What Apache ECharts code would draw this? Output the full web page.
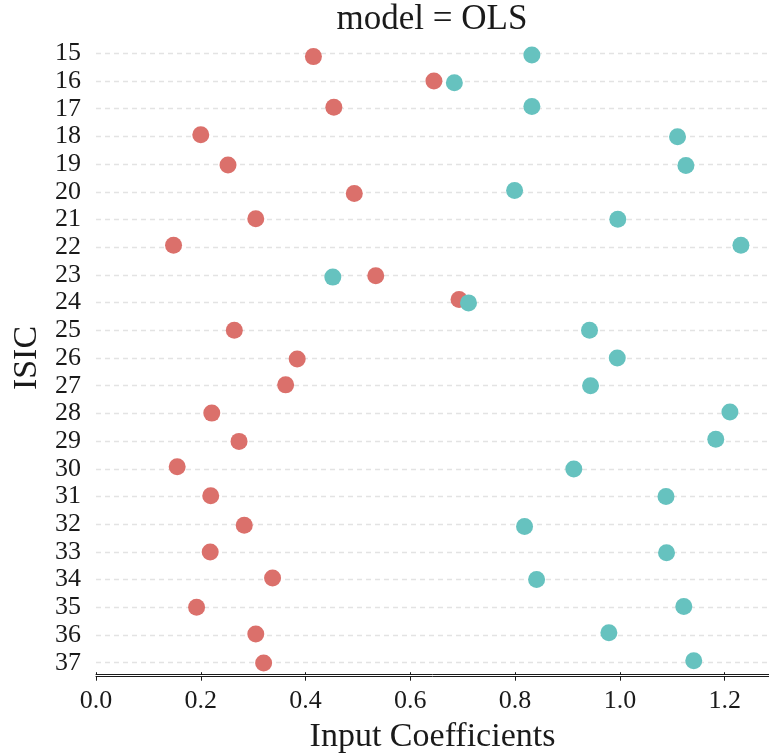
<!DOCTYPE html>
<html>
<head>
<meta charset="utf-8">
<script src="https://cdn.jsdelivr.net/npm/echarts@6/dist/echarts.min.js"></script>
<style>html,body{margin:0;padding:0;background:#fff}#c{width:769px;height:756px}</style>
</head>
<body>
<div id="c"></div>
<script>
const categories = ['15','16','17','18','19','20','21','22','23','24','25','26','27','28','29','30','31','32','33','34','35','36','37'];
const redValues  = [0.415,0.645,0.454,0.200,0.252,0.493,0.305,0.148,0.534,0.693,0.264,0.384,0.362,0.221,0.273,0.155,0.219,0.283,0.218,0.337,0.192,0.305,0.320];
const tealValues = [0.832,0.684,0.832,1.110,1.126,0.799,0.996,1.231,0.452,0.711,0.942,0.995,0.944,1.210,1.183,0.912,1.088,0.818,1.089,0.841,1.122,0.979,1.141];
const redJitter  = [0.12,0.00,-0.05,-0.06,0.03,0.06,-0.03,-0.07,0.03,-0.11,0.00,0.04,-0.03,-0.01,0.01,-0.07,-0.03,0.04,0.00,-0.06,0.00,-0.04,0.01];
const tealJitter = [0.06,0.06,-0.08,0.01,0.05,-0.05,-0.01,-0.07,0.08,0.01,0.00,0.00,0.00,-0.05,-0.07,0.01,0.00,0.08,0.03,0.00,-0.03,-0.08,-0.07];
const xTicks = [0.0,0.2,0.4,0.6,0.8,1.0,1.2];
const titleText = 'model = OLS';
const xName = 'Input Coefficients';
const yName = 'ISIC';

const FONT = '"Liberation Serif", "DejaVu Serif", serif';
const INK = '#1a1a1a';
const xMax = 1.2846;

const chart = echarts.init(document.getElementById('c'), null, {renderer: 'canvas'});
const redData = redValues.map((v, i) => [v, i + redJitter[i]]);
const tealData = tealValues.map((v, i) => [v, i + tealJitter[i]]);

const gridBox = {left: 96, right: 0, top: 53.3, bottom: 93.3, containLabel: false, outerBoundsMode: 'none'};

chart.setOption({
  animation: false,
  backgroundColor: '#fff',
  title: {
    text: titleText,
    left: 432,
    top: 2,
    textAlign: 'center',
    padding: 0,
    textStyle: {fontFamily: FONT, fontSize: 35, fontWeight: 'normal', color: INK}
  },
  grid: [Object.assign({}, gridBox), Object.assign({}, gridBox)],
  xAxis: [{
    type: 'value', gridIndex: 0, min: 0, max: xMax, position: 'bottom', offset: 14,
    name: xName, nameLocation: 'middle', nameGap: 43,
    nameTextStyle: {fontFamily: FONT, fontSize: 34, color: INK},
    axisLine: {show: true, onZero: false, lineStyle: {color: INK, width: 1}},
    axisTick: {show: true, length: 4, customValues: xTicks, lineStyle: {color: INK, width: 1}},
    axisLabel: {customValues: xTicks, margin: 11, fontFamily: FONT, fontSize: 26, color: INK,
      formatter: v => v.toFixed(1)},
    splitLine: {show: false}
  }, {
    type: 'value', gridIndex: 1, min: 0, max: xMax, position: 'bottom', offset: 11.5,
    axisLine: {show: true, onZero: false, lineStyle: {color: INK, width: 1}},
    axisTick: {show: true, inside: true, length: 2, customValues: xTicks, lineStyle: {color: INK, width: 1}},
    axisLabel: {show: false},
    splitLine: {show: false}
  }],
  yAxis: [{
    type: 'value', gridIndex: 0, min: 0, max: categories.length - 1, interval: 1, inverse: true,
    name: yName, nameLocation: 'middle', nameGap: 47, nameRotate: 90,
    nameTextStyle: {fontFamily: FONT, fontSize: 34, color: INK},
    axisLine: {show: false, onZero: false},
    axisTick: {show: false},
    axisLabel: {margin: 15, fontFamily: FONT, fontSize: 26, color: INK,
      formatter: v => categories[Math.round(v)] || ''},
    splitLine: {show: true, lineStyle: {color: '#e3e3e3', width: 1.3, type: [5, 4]}}
  }, {
    type: 'value', gridIndex: 1, min: 0, max: categories.length - 1, inverse: true,
    axisLine: {show: false, onZero: false}, axisTick: {show: false}, axisLabel: {show: false}, splitLine: {show: false}
  }],
  series: [{
    name: 'input 1', type: 'scatter', xAxisIndex: 0, yAxisIndex: 0, data: redData, symbolSize: 17, clip: false,
    itemStyle: {color: '#db706b', opacity: 1}
  }, {
    name: 'input 2', type: 'scatter', xAxisIndex: 0, yAxisIndex: 0, data: tealData, symbolSize: 17, clip: false,
    itemStyle: {color: '#66c2bf', opacity: 1}
  }]
});
</script>
</body>
</html>
